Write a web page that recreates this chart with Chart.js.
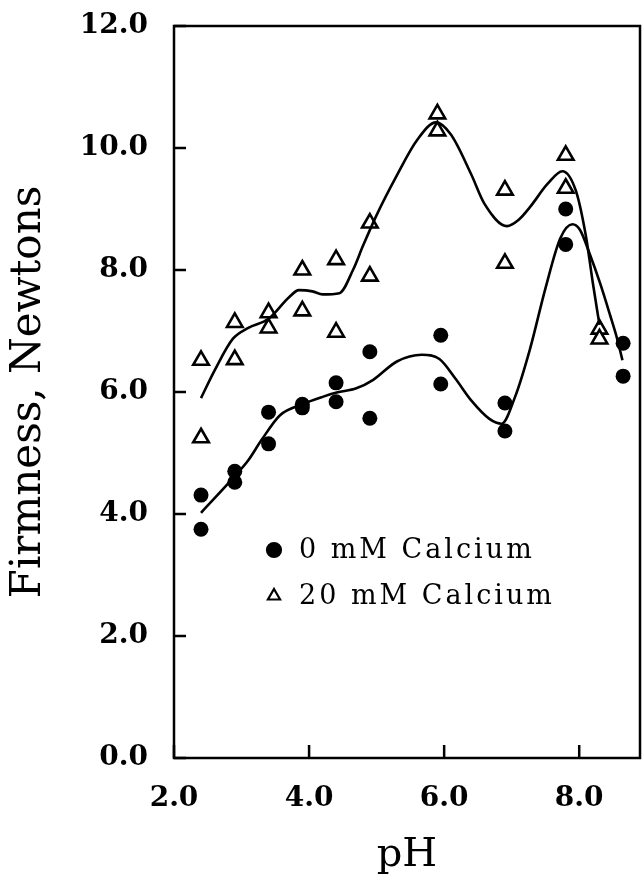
<!DOCTYPE html>
<html>
<head>
<meta charset="utf-8">
<script src="https://cdn.jsdelivr.net/npm/chart.js@4.4.1/dist/chart.umd.min.js"></script>
<style>
  html, body { margin: 0; padding: 0; background: #fff; }
  #wrap { width: 644px; height: 880px; }
</style>
</head>
<body>
<div id="wrap"><canvas id="firmChart" width="644" height="880"></canvas></div>
<script>
// measured points, 0 mM calcium (filled circles)
const ph0 = [2.4, 2.4, 2.9, 2.9, 3.4, 3.4, 3.9, 3.9, 4.4, 4.4, 4.9, 4.9, 5.95, 5.95, 6.9, 6.9, 7.8, 7.8, 8.65, 8.65];
const firm0 = [4.31, 3.75, 4.7, 4.52, 5.67, 5.15, 5.8, 5.74, 6.15, 5.84, 6.66, 5.57, 6.93, 6.13, 5.82, 5.36, 9.0, 8.42, 6.8, 6.26];

// measured points, 20 mM calcium (open triangles)
const ph20 = [2.4, 2.4, 2.9, 2.9, 3.4, 3.4, 3.9, 3.9, 4.4, 4.4, 4.9, 4.9, 5.9, 5.9, 6.9, 6.9, 7.8, 7.8, 8.3, 8.3];
const firm20 = [6.52, 5.25, 7.14, 6.53, 7.3, 7.05, 8.0, 7.33, 8.17, 6.98, 8.77, 7.9, 10.56, 10.28, 9.31, 8.11, 9.88, 9.34, 7.03, 6.87];

// fitted curves
const fitPh0 = [2.4, 2.9, 3.1, 3.3, 3.57, 3.9, 4.2, 4.41, 4.7, 4.95, 5.3, 5.67, 5.93, 6.16, 6.41, 6.67, 6.85, 7.05, 7.27, 7.5, 7.72, 7.9, 8.01, 8.16, 8.31, 8.46, 8.56, 8.64];
const fit0 = [4.02, 4.62, 4.88, 5.22, 5.62, 5.8, 5.92, 5.99, 6.06, 6.2, 6.5, 6.61, 6.54, 6.23, 5.85, 5.56, 5.48, 5.92, 6.7, 7.7, 8.52, 8.75, 8.66, 8.25, 7.78, 7.25, 6.88, 6.52];

const fitPh20 = [2.4, 2.6, 2.87, 3.1, 3.4, 3.7, 3.85, 4.05, 4.2, 4.45, 4.65, 4.8, 5.0, 5.3, 5.6, 5.88, 6.1, 6.4, 6.6, 6.93, 7.1, 7.27, 7.53, 7.75, 7.95, 8.1, 8.2, 8.3];
const fit20 = [5.9, 6.35, 6.87, 7.05, 7.2, 7.55, 7.67, 7.65, 7.6, 7.62, 8.0, 8.4, 8.9, 9.55, 10.13, 10.42, 10.22, 9.57, 9.08, 8.72, 8.82, 9.03, 9.41, 9.62, 9.3, 8.55, 7.8, 7.1];

const xTicks = [2, 4, 6, 8];
const yTicks = [0, 2, 4, 6, 8, 10, 12];

const SERIF = "'DejaVu Serif', serif";

function pts(xs, ys) {
  return xs.map((x, i) => ({ x, y: ys[i] }));
}

// --- frame + inward ticks ---
const framePlugin = {
  id: "framePlugin",
  afterDraw(chart) {
    const { ctx, chartArea: a, scales } = chart;
    ctx.save();
    ctx.strokeStyle = "#000";
    ctx.lineWidth = 2.5;
    ctx.strokeRect(a.left, a.top, a.right - a.left, a.bottom - a.top);
    ctx.beginPath();
    xTicks.forEach(v => {
      const x = scales.x.getPixelForValue(v);
      ctx.moveTo(x, a.bottom);
      ctx.lineTo(x, a.bottom - 13);
    });
    yTicks.forEach(v => {
      const y = scales.y.getPixelForValue(v);
      ctx.moveTo(a.left, y);
      ctx.lineTo(a.left + 12, y);
    });
    ctx.stroke();
    ctx.restore();
  }
};

// --- legend inside the plot ---
const legendPlugin = {
  id: "legendPlugin",
  afterDraw(chart) {
    const { ctx, chartArea: a } = chart;
    const items = chart.data.datasets.filter(d => d.inLegend);
    ctx.save();
    ctx.font = "27px " + SERIF;
    ctx.letterSpacing = "3px";
    ctx.textBaseline = "middle";
    items.forEach((d, i) => {
      const x = a.left + 100;
      const y = a.top + 524 + i * 46;
      ctx.fillStyle = d.pointBackgroundColor;
      ctx.strokeStyle = "#000";
      ctx.lineWidth = 2.2;
      Chart.helpers.drawPoint(ctx, { pointStyle: d.pointStyle, radius: 7, rotation: 0, borderWidth: 2.2 }, x, y);
      ctx.fillStyle = "#000";
      ctx.fillText(d.label, x + 25, y + 1);
    });
    ctx.restore();
  }
};

const ctx = document.getElementById("firmChart");

new Chart(ctx, {
  type: "scatter",
  data: {
    datasets: [
      {
        type: "line",
        label: "fit 20",
        data: pts(fitPh20, fit20),
        borderColor: "#000",
        borderWidth: 2.6,
        pointRadius: 0,
        cubicInterpolationMode: "monotone",
        fill: false
      },
      {
        type: "line",
        label: "fit 0",
        data: pts(fitPh0, fit0),
        borderColor: "#000",
        borderWidth: 2.6,
        pointRadius: 0,
        cubicInterpolationMode: "monotone",
        fill: false
      },
      {
        label: "0 mM Calcium",
        inLegend: true,
        data: pts(ph0, firm0),
        pointStyle: "circle",
        pointRadius: 7.5,
        pointBackgroundColor: "#000",
        pointBorderColor: "#000",
        pointBorderWidth: 0
      },
      {
        label: "20 mM Calcium",
        inLegend: true,
        data: pts(ph20, firm20),
        pointStyle: "triangle",
        pointRadius: 9,
        pointBackgroundColor: "#fff",
        pointBorderColor: "#000",
        pointBorderWidth: 2.6
      }
    ]
  },
  options: {
    responsive: false,
    animation: false,
    layout: { autoPadding: false, padding: { top: 26, right: 4, left: 0, bottom: 0 } },
    plugins: {
      legend: { display: false },
      tooltip: { enabled: false }
    },
    scales: {
      x: {
        type: "linear",
        min: 2,
        max: 8.9,
        grid: { display: false, drawTicks: false },
        border: { display: false },
        ticks: {
          stepSize: 2,
          includeBounds: false,
          padding: 24,
          color: "#000",
          font: { family: SERIF, size: 28, weight: "bold" },
          callback: v => v.toFixed(1)
        },
        title: {
          display: true,
          text: "pH",
          color: "#000",
          font: { family: SERIF, size: 40 },
          padding: { top: 0, bottom: 0 }
        },
        afterFit: s => {
          s.height = 122;
          s.paddingLeft = 0;
          s.paddingRight = 0;
        }
      },
      y: {
        type: "linear",
        min: 0,
        max: 12,
        grid: { display: false, drawTicks: false },
        border: { display: false },
        ticks: {
          stepSize: 2,
          padding: 26,
          color: "#000",
          font: { family: SERIF, size: 28, weight: "bold" },
          callback: v => v.toFixed(1)
        },
        title: {
          display: true,
          text: "Firmness, Newtons",
          color: "#000",
          font: { family: SERIF, size: 42 },
          padding: { top: 4, bottom: 0 }
        },
        afterFit: s => {
          s.width = 174;
          s.paddingTop = 0;
          s.paddingBottom = 0;
        }
      }
    }
  },
  plugins: [framePlugin, legendPlugin]
});
</script>
</body>
</html>
